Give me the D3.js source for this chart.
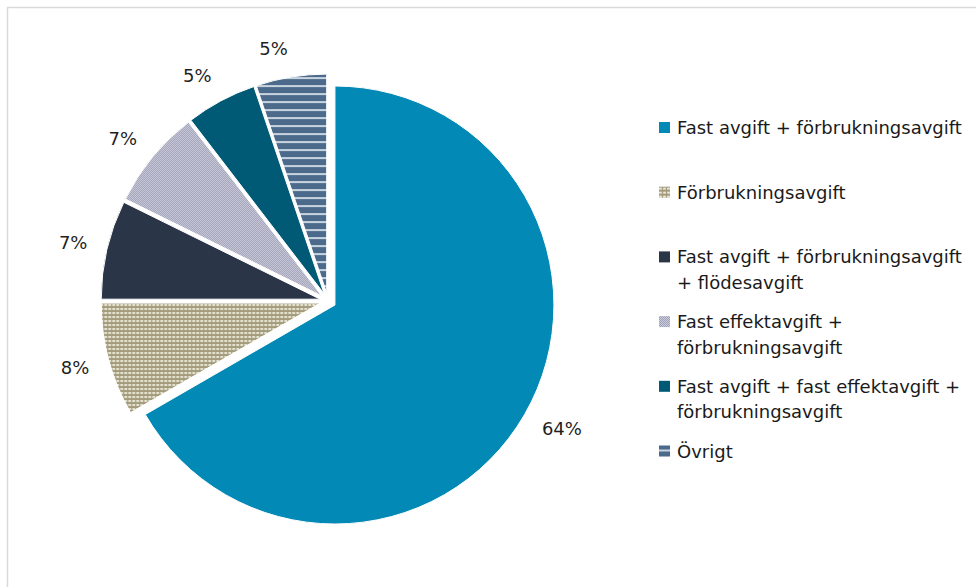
<!DOCTYPE html>
<html>
<head>
<meta charset="utf-8">
<script src="https://cdn.jsdelivr.net/npm/d3@7"></script>
<style>
  html, body { margin: 0; padding: 0; background: #fff; }
  svg { display: block; font-family: "DejaVu Sans", "Liberation Sans", sans-serif; }
</style>
</head>
<body>
<svg id="chart" width="976" height="587"></svg>
<script>
// Fee structures (Swedish tariff types) and their share in percent
const categories = [
  "Fast avgift + förbrukningsavgift",
  "Förbrukningsavgift",
  "Fast avgift + förbrukningsavgift\n+ flödesavgift",
  "Fast effektavgift +\nförbrukningsavgift",
  "Fast avgift + fast effektavgift +\nförbrukningsavgift",
  "Övrigt"
];
const values = [64, 8, 7, 7, 5, 5];
const fills = ["#0389B5", "url(#pat-tan)", "#2A3547", "url(#pat-check)", "#005A75", "url(#pat-stripe)"];

const W = 976, H = 587;
const svg = d3.select("#chart");

// Fill patterns
const defs = svg.append("defs");

const tan = defs.append("pattern").attr("id", "pat-tan")
  .attr("patternUnits", "userSpaceOnUse").attr("width", 4).attr("height", 4);
tan.append("rect").attr("width", 4).attr("height", 4).attr("fill", "#A39B7C");
tan.append("rect").attr("x", 0).attr("y", 1).attr("width", 3).attr("height", 2).attr("fill", "#E0DCC8");
tan.append("rect").attr("x", 1).attr("y", 1).attr("width", 1).attr("height", 1).attr("fill", "#F4F2EA");

const chk = defs.append("pattern").attr("id", "pat-check")
  .attr("patternUnits", "userSpaceOnUse").attr("width", 8).attr("height", 8);
chk.append("rect").attr("width", 8).attr("height", 8).attr("fill", "#D0D0DD");
for (let i = 0; i < 8; i++) {
  for (let j = 0; j < 8; j++) {
    if ((i + j) % 2 === 1) {
      chk.append("rect").attr("x", i).attr("y", j).attr("width", 1).attr("height", 1).attr("fill", "#9A9BB5");
    }
  }
}

const stp = defs.append("pattern").attr("id", "pat-stripe")
  .attr("patternUnits", "userSpaceOnUse").attr("width", 8).attr("height", 8);
stp.append("rect").attr("width", 8).attr("height", 8).attr("fill", "#4C6A8B");
stp.append("rect").attr("y", 0).attr("width", 8).attr("height", 2).attr("fill", "#C9D4DF");

// Chart area border
svg.append("rect")
  .attr("x", 7.5).attr("y", 7.5)
  .attr("width", W + 10).attr("height", H + 10)
  .attr("fill", "none").attr("stroke", "#D9D9D9").attr("stroke-width", 1.5);

// Pie geometry: every slice pulled slightly outward along its bisector
const cx = 328, cy = 301, r = 219, explode = 8;
const pie = d3.pie().sort(null).value(d => d.value);
const arcs = pie(values.map((v, i) => ({ value: v, name: categories[i], fill: fills[i] })));
const arc = d3.arc().innerRadius(0).outerRadius(r);

const slices = svg.append("g").selectAll("g")
  .data(arcs).join("g")
  .attr("transform", a => {
    const m = (a.startAngle + a.endAngle) / 2;
    a.ox = cx + Math.sin(m) * explode;
    a.oy = cy - Math.cos(m) * explode;
    return `translate(${a.ox},${a.oy})`;
  });

slices.append("path")
  .attr("d", arc)
  .attr("fill", a => a.data.fill)
  .attr("stroke", "#fff")
  .attr("stroke-width", 1);

// Percentage labels placed just outside each slice
const labelFont = 18, labelR = r + 20;
const labels = svg.append("g").selectAll("text")
  .data(arcs).join("text")
  .attr("font-size", labelFont)
  .attr("fill", "#1F1F1F")
  .attr("text-anchor", "middle")
  .attr("dy", "0.36em")
  .text(a => a.data.value + "%");

labels.each(function (a) {
  const w = this.getComputedTextLength();
  const m = (a.startAngle + a.endAngle) / 2;
  const ux = Math.sin(m), uy = -Math.cos(m);
  d3.select(this)
    .attr("x", a.ox + ux * labelR + Math.sign(ux) * w / 2)
    .attr("y", a.oy + uy * labelR + uy * labelFont / 2);
});

// Legend
const legX = 659, legY = 134, legStep = 64.7, lineH = 25.5, box = 11;
const leg = svg.append("g").selectAll("g")
  .data(arcs).join("g")
  .attr("transform", (a, i) => `translate(${legX},${legY + i * legStep})`);

leg.append("rect")
  .attr("x", 0).attr("y", -12)
  .attr("width", box).attr("height", box)
  .attr("fill", a => a.data.fill);

leg.append("text")
  .attr("x", 18)
  .attr("font-size", 18)
  .attr("fill", "#1A1A1A")
  .selectAll("tspan")
  .data(a => a.data.name.split("\n"))
  .join("tspan")
  .attr("x", 18)
  .attr("y", (d, i) => i * lineH)
  .text(d => d);
</script>
</body>
</html>
